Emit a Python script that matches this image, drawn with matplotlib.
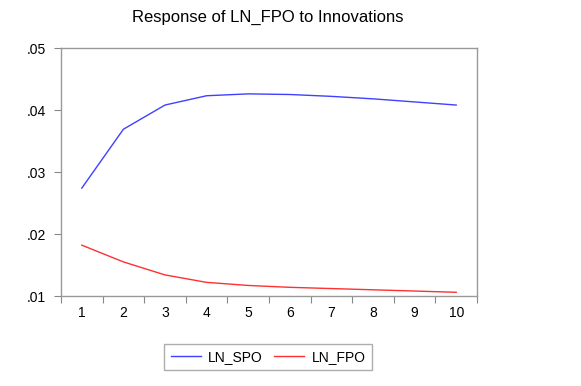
import numpy as np
import matplotlib.pyplot as plt

plt.rcParams['font.family'] = ['Liberation Sans', 'DejaVu Sans']

# data ------------------------------------------------------
periods = [1, 2, 3, 4, 5, 6, 7, 8, 9, 10]
ln_spo = [0.0274, 0.0369, 0.0408, 0.0423, 0.0426, 0.0425, 0.0422, 0.0418, 0.0413, 0.0408]
ln_fpo = [0.0182, 0.0155, 0.0134, 0.0122, 0.0117, 0.0114, 0.0112, 0.0110, 0.0108, 0.0106]
ytick_vals = [0.01, 0.02, 0.03, 0.04, 0.05]
ytick_labels = ['.01', '.02', '.03', '.04', '.05']

fig = plt.figure(figsize=(5.81, 3.86), dpi=100)
ax = fig.add_axes([61/581, 1-296/386, (477-61)/581, (296-48)/386])

ax.plot(periods, ln_spo, color='#4040ff', lw=1.0, label='LN_SPO')
ax.plot(periods, ln_fpo, color='#ff3030', lw=1.0, label='LN_FPO')

#axes---------------------------------------------------
ax.set_xlim(0.5, 10.5)
ax.set_ylim(0.01, 0.05)
ax.set_yticks(ytick_vals)
ax.set_yticklabels(ytick_labels)
ax.set_xticks(np.arange(0.5, 11, 1))
ax.set_xticklabels([])
ax.set_xticks(periods, minor=True)
ax.set_xticklabels([str(p) for p in periods], minor=True)
ax.tick_params(axis='x', which='minor', length=0, pad=7, labelsize=10)
ax.tick_params(axis='x', which='major', length=5, color='#888888', direction='out')
ax.tick_params(axis='y', length=5, color='#888888', labelsize=10, pad=6)
for s in ax.spines.values():
    s.set_color('#999999')
    s.set_linewidth(1.0)

fig.text(268/581, 1-17/386, 'Response of LN_FPO to Innovations', fontsize=12,
         ha='center', va='center')

leg = fig.legend(loc='center', bbox_to_anchor=(268/581, 1-357/386), ncol=2,
                 frameon=True, fancybox=False, fontsize=10, handlelength=2.2,
                 columnspacing=0.8, handletextpad=0.5, borderpad=0.45)
leg.get_frame().set_edgecolor('#999999')
leg.get_frame().set_linewidth(1.0)

plt.savefig('out.png', dpi=100)
